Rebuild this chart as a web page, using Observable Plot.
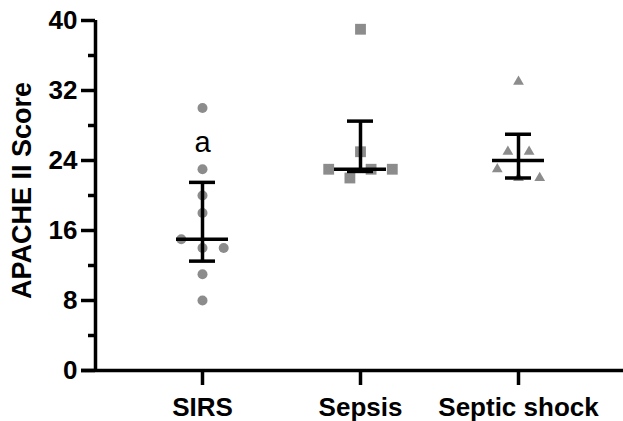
<!DOCTYPE html>
<html>
<head>
<meta charset="utf-8">
<script src="https://cdn.jsdelivr.net/npm/d3@7"></script>
<script src="https://cdn.jsdelivr.net/npm/@observablehq/plot@0.6"></script>
<style>
  html, body { margin: 0; padding: 0; background: #fff; }
  #chart svg { display: block; }
</style>
</head>
<body>
<div id="chart"></div>
<script>
// ---- data ----
const groups = ["SIRS", "Sepsis", "Septic shock"];
const sirsScores   = [30, 23, 20, 18, 15, 14, 14, 11, 8];
const sirsSlots    = [0, 0, 0, 0, -2, 0, 2, 0, 0];
const sepsisScores = [39, 25, 23, 23, 23, 22];
const sepsisSlots  = [0, 0, -3, 1, 3, -1];
const shockScores  = [33, 25, 25, 23, 22, 22];
const shockSlots   = [0, -1, 1, -2, 0, 2];
const medians = [15, 23, 24];
const lowerQ  = [12.5, 22.75, 22];
const upperQ  = [21.5, 28.5, 27];
const annotations = ["a", "", ""];
const annotationY = [25, null, null];
const yTicks = [0, 8, 16, 24, 32, 40];
const yMinorTicks = [4, 12, 20, 28, 36];

// ---- layout constants ----
const unit = 158;                    // px per group step
const slotUnit = 10.6 / unit;        // jitter step
const xMin = 1 - 107 / unit, xMax = 3 + 105 / unit, xExt = 1 - 121 / unit;
const medHalf = 26 / unit, capHalf = 13 / unit;
const gray = "#8c8c8c";
const sw = 3.5;

const allScores = [sirsScores, sepsisScores, shockScores];
const allSlots = [sirsSlots, sepsisSlots, shockSlots];
const symbols = ["circle", "square", "triangle"];
const radii = [5, 6.1, 4];

const rows = [];
allScores.forEach((arr, g) => arr.forEach((s, k) => rows.push({g, score: s, slot: allSlots[g][k]})));
const summary = groups.map((name, g) => ({g, name, median: medians[g], lo: lowerQ[g], hi: upperQ[g], ann: annotations[g], annY: annotationY[g]}));

const dotMarks = groups.map((_, g) =>
  Plot.dot(rows.filter(d => d.g === g), {
    x: d => d.g + 1 + d.slot * slotUnit,
    y: "score",
    r: radii[g],
    symbol: symbols[g],
    fill: gray,
    stroke: "none"
  })
);

const chart = Plot.plot({
  width: 623,
  height: 421,
  marginLeft: 95,
  marginRight: 0,
  marginTop: 20,
  marginBottom: 51,
  style: {fontFamily: "'Liberation Sans', Arial, sans-serif", background: "#fff", overflow: "visible"},
  x: {domain: [xMin, xMax], axis: null},
  y: {domain: [0, 40], axis: null},
  marks: [
    ...dotMarks,
    // median lines
    Plot.ruleY(summary, {y: "median", x1: d => d.g + 1 - medHalf, x2: d => d.g + 1 + medHalf, stroke: "black", strokeWidth: sw}),
    // IQR vertical
    Plot.ruleX(summary, {x: d => d.g + 1, y1: "lo", y2: "hi", stroke: "black", strokeWidth: sw}),
    // caps
    Plot.ruleY(summary, {y: "lo", x1: d => d.g + 1 - capHalf, x2: d => d.g + 1 + capHalf, stroke: "black", strokeWidth: sw}),
    Plot.ruleY(summary, {y: "hi", x1: d => d.g + 1 - capHalf, x2: d => d.g + 1 + capHalf, stroke: "black", strokeWidth: sw}),
    // annotation
    Plot.text(summary.filter(d => d.ann), {x: d => d.g + 1, y: "annY", text: "ann", lineAnchor: "bottom", fontSize: 29, fill: "black"}),
    // y axis
    Plot.axisY({ticks: yTicks, tickSize: 14, tickPadding: 4, strokeWidth: sw, fontSize: 26, fontWeight: "bold", fill: "black", stroke: "black", label: null}),
    Plot.axisY({ticks: yMinorTicks, tickSize: 7, strokeWidth: sw, text: null, stroke: "black", label: null}),
    Plot.ruleX([xMin], {y1: 0, y2: 40, stroke: "black", strokeWidth: sw}),
    // x axis
    Plot.ruleY([0], {x1: xExt, x2: xMax, stroke: "black", strokeWidth: sw}),
    Plot.axisX({ticks: [1, 2, 3], tickFormat: i => groups[i - 1], tickSize: 15, tickPadding: 12, strokeWidth: sw, fontSize: 26, fontWeight: "bold", fill: "black", stroke: "black", label: null}),
    // y label
    Plot.text(["APACHE II Score"], {frameAnchor: "left", textAnchor: "middle", dx: -73, dy: -5, rotate: -90, fontSize: 27, fontWeight: "bold", fill: "black"})
  ]
});
document.getElementById("chart").appendChild(chart);
</script>
</body>
</html>
